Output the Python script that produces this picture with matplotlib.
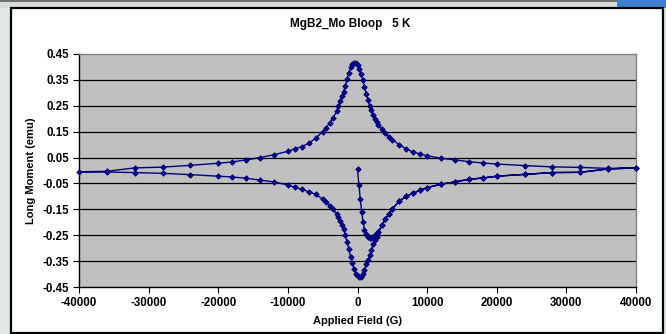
import matplotlib
matplotlib.use("Agg")
import matplotlib.pyplot as plt
from matplotlib.patches import Rectangle
import numpy as np

plt.rcParams['font.family'] = ['Liberation Sans', 'DejaVu Sans']

# Initial magnetisation from zero field (G, emu)
h_virgin = [0, 200, 400, 600, 800, 1000, 1250, 1500, 1750, 2000, 2250, 2500, 2750, 3000,
            3500, 4000, 4500, 5000, 6000, 7000, 8000, 9000, 10000, 12000, 14000, 16000,
            18000, 20000, 24000, 28000, 32000, 36000, 40000]
m_virgin = [0.005, -0.055, -0.110, -0.160, -0.200, -0.228, -0.246, -0.255, -0.259, -0.259,
            -0.255, -0.249, -0.242, -0.236,
            -0.212, -0.188, -0.168, -0.148, -0.118, -0.100, -0.087, -0.076, -0.066, -0.053,
            -0.044, -0.034, -0.029, -0.022, -0.015, -0.008, -0.007, 0.006, 0.010]

# Decreasing-field branch, +40000 G down to -40000 G
h_down = [40000, 36000, 32000, 28000, 24000, 20000, 18000, 16000, 14000, 12000, 10000,
          9000, 8000, 7000, 6000, 5000, 4500, 4000, 3500, 3000, 2750, 2500, 2250, 2000,
          1750, 1500, 1250, 1000, 750, 500, 250, 0, -250, -500, -750, -1000, -1250, -1500,
          -1750, -2000, -2250, -2500, -2750, -3000, -3500, -4000, -4500, -5000, -6000,
          -7000, -8000, -9000, -10000, -12000, -14000, -16000, -18000, -20000, -24000,
          -28000, -32000, -36000, -40000]
m_down = [0.010, 0.008, 0.012, 0.014, 0.019, 0.025, 0.029, 0.034, 0.041, 0.047, 0.057,
          0.064, 0.071, 0.083, 0.100, 0.119, 0.130, 0.144, 0.160, 0.176, 0.187, 0.199,
          0.214, 0.232, 0.250, 0.272, 0.297, 0.322, 0.350, 0.372, 0.392, 0.408, 0.414,
          0.415, 0.410, 0.398, 0.377, 0.355, 0.326, 0.305, 0.287, 0.268, 0.248, 0.228,
          0.204, 0.183, 0.166, 0.150, 0.125, 0.105, 0.092, 0.084, 0.074, 0.061, 0.050,
          0.041, 0.033, 0.028, 0.020, 0.013, 0.010, -0.003, -0.005]

# Increasing-field branch, -40000 G back up to +40000 G
h_up = [-40000, -36000, -32000, -28000, -24000, -20000, -18000, -16000, -14000, -12000,
        -10000, -9000, -8000, -7000, -6000, -5000, -4500, -4000, -3500, -3000, -2750,
        -2500, -2250, -2000, -1750, -1500, -1250, -1000, -750, -500, -250, 0, 250, 500,
        750, 1000, 1250, 1500, 1750, 2000, 2250, 2500, 2750, 3000, 3500, 4000, 4500,
        5000, 6000, 7000, 8000, 9000, 10000, 12000, 14000, 16000, 18000, 20000, 24000,
        28000, 32000, 36000, 40000]
m_up = [-0.007, -0.006, -0.008, -0.011, -0.016, -0.022, -0.025, -0.030, -0.037, -0.044,
        -0.056, -0.065, -0.073, -0.082, -0.092, -0.111, -0.123, -0.136, -0.150, -0.168,
        -0.180, -0.194, -0.209, -0.226, -0.249, -0.276, -0.305, -0.333, -0.357, -0.380,
        -0.398, -0.407, -0.412, -0.410, -0.400, -0.384, -0.363, -0.345, -0.328, -0.307,
        -0.283, -0.270, -0.255, -0.238, -0.212, -0.188, -0.168, -0.148, -0.118, -0.100,
        -0.087, -0.076, -0.066, -0.053, -0.044, -0.034, -0.029, -0.022, -0.015, -0.008,
        -0.007, 0.006, 0.010]

x_ticks = [-40000, -30000, -20000, -10000, 0, 10000, 20000, 30000, 40000]
y_ticks = [-0.45, -0.35, -0.25, -0.15, -0.05, 0.05, 0.15, 0.25, 0.35, 0.45]

W, H = 666, 334
fig = plt.figure(figsize=(W / 100, H / 100), dpi=100)
fig.patch.set_facecolor('#e3e9e9')

def frac(x0, y0, x1, y1):
    return (x0 / W, 1 - y1 / H, (x1 - x0) / W, (y1 - y0) / H)

# window strip along the top and the white chart box
x0, y0, w, h = frac(0, 0, 666, 8)
fig.patches.append(Rectangle((x0, y0), w, h, transform=fig.transFigure,
                             facecolor='#d8dcdc', edgecolor='none', zorder=-2))
x0, y0, w, h = frac(0, 0, 666, 1.5)
fig.patches.append(Rectangle((x0, y0), w, h, transform=fig.transFigure,
                             facecolor='#707070', edgecolor='none', zorder=-2))
x0, y0, w, h = frac(617, 0, 666, 8)
fig.patches.append(Rectangle((x0, y0), w, h, transform=fig.transFigure,
                             facecolor='#3d7fd0', edgecolor='none', zorder=-2))
x0, y0, w, h = frac(11, 8, 663, 333)
fig.patches.append(Rectangle((x0, y0), w, h, transform=fig.transFigure,
                             facecolor='white', edgecolor='black', linewidth=1.6, zorder=-1))

ax = fig.add_axes([79 / W, 1 - 287 / H, (636 - 79) / W, (287 - 54) / H])
ax.set_zorder(2)
ax.set_facecolor('#c0c0c0')
ax.set_xlim(-40000, 40000)
ax.set_ylim(-0.45, 0.45)

for yv in y_ticks[1:-1]:
    ax.axhline(yv, color='black', linewidth=0.9, zorder=1)

h_all = h_virgin + h_down[1:] + h_up[1:]
m_all = m_virgin + m_down[1:] + m_up[1:]
ax.plot(h_all, m_all, color='#000080', linewidth=1.0, marker='D', markersize=2.8,
        markeredgewidth=0.6, zorder=3, clip_on=False)

ax.set_xticks(x_ticks)
ax.set_yticks(y_ticks)
ax.set_xticklabels([str(v) for v in x_ticks], fontsize=8.3, fontweight='bold')
ax.set_yticklabels([f"{v:.2f}" for v in y_ticks], fontsize=8.3, fontweight='bold')
ax.tick_params(direction='out', length=4, width=0.8, colors='black', pad=3)

for side in ('top', 'right'):
    ax.spines[side].set_color('#808080')
    ax.spines[side].set_linewidth(1.0)
for side in ('left', 'bottom'):
    ax.spines[side].set_color('black')
    ax.spines[side].set_linewidth(1.0)

fig.text(350 / W, 1 - 24 / H, 'MgB2_Mo Bloop   5 K', fontsize=8.5, fontweight='bold',
         ha='center', va='center')
ax.set_xlabel('Applied Field (G)', fontsize=8.0, fontweight='bold', labelpad=5)
ax.set_ylabel('Long Moment (emu)', fontsize=8.0, fontweight='bold', labelpad=5)

fig.savefig('out.png', dpi=100, facecolor=fig.get_facecolor())
